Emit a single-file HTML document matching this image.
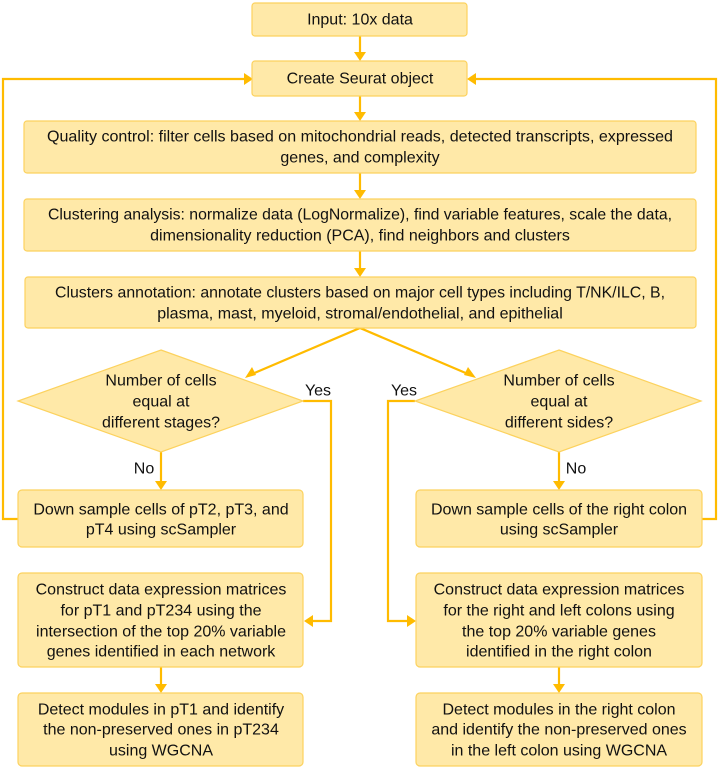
<!DOCTYPE html>
<html><head><meta charset="utf-8"><style>
html,body{margin:0;padding:0;background:#fff;}
svg{display:block;}
text{font-family:"Liberation Sans",sans-serif;font-size:16px;fill:#111;text-anchor:middle;dominant-baseline:central;}
.b{fill:#FFE9A8;stroke:#FCD25E;stroke-width:1.2;}
.l{stroke:#FFBB00;stroke-width:2.2;fill:none;}
.a{fill:#FFBB00;}
</style></head><body>
<svg width="720" height="769" viewBox="0 0 720 769" xmlns="http://www.w3.org/2000/svg">
<line class="l" x1="360" y1="36" x2="360" y2="54"/><polygon class="a" points="354,52 366,52 360,61"/>
<line class="l" x1="360" y1="96" x2="360" y2="114"/><polygon class="a" points="354,112 366,112 360,121"/>
<line class="l" x1="360" y1="173" x2="360" y2="192"/><polygon class="a" points="354,190 366,190 360,199"/>
<line class="l" x1="360" y1="251" x2="360" y2="270"/><polygon class="a" points="354,268 366,268 360,277"/>
<polyline class="l" points="252,374 360,328 468,374"/>
<polygon class="a" points="245,378 252,367 256,375"/>
<polygon class="a" points="476,378 468,367 464,375"/>
<polyline class="l" points="18,519 3,519 3,79 246,79"/><polygon class="a" points="244,73 244,85 253,79"/>
<polyline class="l" points="702,519 716,519 716,79 474,79"/><polygon class="a" points="476,73 476,85 467,79"/>
<polyline class="l" points="303,401 331,401 331,621 311,621"/><polygon class="a" points="313,615 313,627 304,621"/>
<polyline class="l" points="415,401 388,401 388,621 409,621"/><polygon class="a" points="407,615 407,627 416,621"/>
<line class="l" x1="161" y1="452" x2="161" y2="483"/><polygon class="a" points="155,481 167,481 161,490"/>
<line class="l" x1="559" y1="452" x2="559" y2="483"/><polygon class="a" points="553,481 565,481 559,490"/>
<line class="l" x1="161" y1="667" x2="161" y2="686"/><polygon class="a" points="155,684 167,684 161,693"/>
<line class="l" x1="559" y1="667" x2="559" y2="686"/><polygon class="a" points="553,684 565,684 559,693"/>

<rect class="b" x="252" y="3" width="215" height="33" rx="3"/>
<text x="360" y="20">Input: 10x data</text>
<rect class="b" x="252" y="61" width="215" height="35" rx="3"/>
<text x="360" y="79">Create Seurat object</text>
<rect class="b" x="24" y="121" width="672" height="52" rx="3"/>
<text x="360" y="137" textLength="626" lengthAdjust="spacingAndGlyphs">Quality control: filter cells based on mitochondrial reads, detected transcripts, expressed</text>
<text x="360" y="158">genes, and complexity</text>
<rect class="b" x="24" y="199" width="672" height="52" rx="3"/>
<text x="360" y="215" textLength="624" lengthAdjust="spacingAndGlyphs">Clustering analysis: normalize data (LogNormalize), find variable features, scale the data,</text>
<text x="360" y="236">dimensionality reduction (PCA), find neighbors and clusters</text>
<rect class="b" x="25" y="277" width="671" height="51" rx="3"/>
<text x="360" y="293" textLength="610" lengthAdjust="spacingAndGlyphs">Clusters annotation: annotate clusters based on major cell types including T/NK/ILC, B,</text>
<text x="360" y="314">plasma, mast, myeloid, stromal/endothelial, and epithelial</text>

<polygon class="b" points="161,350 303,401 161,452 18,401"/>
<text x="161" y="381">Number of cells</text><text x="161" y="402">equal at</text><text x="161" y="423">different stages?</text>
<polygon class="b" points="559,350 701,401 559,452 415,401"/>
<text x="559" y="381">Number of cells</text><text x="559" y="402">equal at</text><text x="559" y="423">different sides?</text>

<text x="318" y="391">Yes</text><text x="404" y="391">Yes</text>
<text x="144" y="469">No</text><text x="576" y="469">No</text>

<rect class="b" x="18" y="490" width="285" height="57" rx="4"/>
<text x="161" y="510">Down sample cells of pT2, pT3, and</text><text x="161" y="530">pT4 using scSampler</text>
<rect class="b" x="416" y="490" width="286" height="57" rx="4"/>
<text x="559" y="510">Down sample cells of the right colon</text><text x="559" y="530">using scSampler</text>

<rect class="b" x="18" y="573" width="285" height="94" rx="4"/>
<text x="161" y="590">Construct data expression matrices</text><text x="161" y="611">for pT1 and pT234 using the</text><text x="161" y="632">intersection of the top 20% variable</text><text x="161" y="652">genes identified in each network</text>
<rect class="b" x="416" y="573" width="286" height="94" rx="4"/>
<text x="559" y="590">Construct data expression matrices</text><text x="559" y="611">for the right and left colons using</text><text x="559" y="632">the top 20% variable genes</text><text x="559" y="652">identified in the right colon</text>

<rect class="b" x="18" y="693" width="285" height="73" rx="4"/>
<text x="161" y="710">Detect modules in pT1 and identify</text><text x="161" y="730">the non-preserved ones in pT234</text><text x="161" y="751">using WGCNA</text>
<rect class="b" x="416" y="693" width="286" height="73" rx="4"/>
<text x="559" y="710">Detect modules in the right colon</text><text x="559" y="730">and identify the non-preserved ones</text><text x="559" y="751">in the left colon using WGCNA</text>
</svg>
</body></html>
